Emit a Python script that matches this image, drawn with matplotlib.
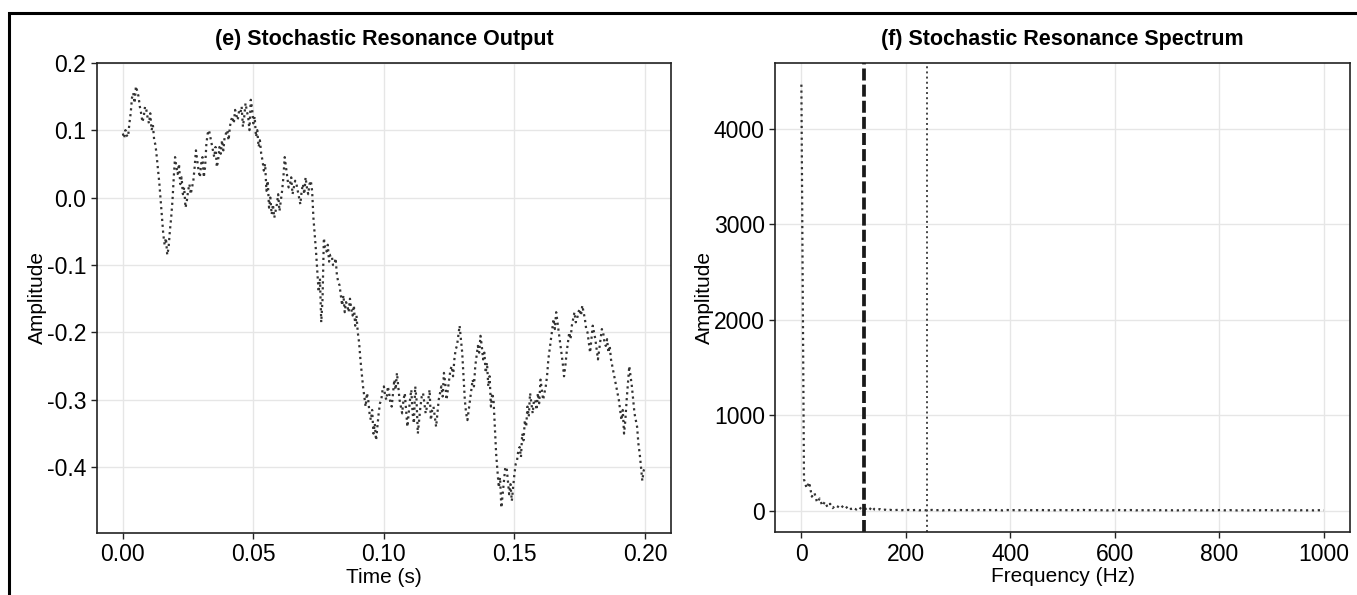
import numpy as np
import matplotlib.pyplot as plt
from matplotlib.patches import Rectangle

# output signal, sampled every 0.5 ms from 0 to 0.2 s
sr_output = [
    0.095, 0.088, 0.100, 0.092, 0.090, 0.110, 0.125, 0.148, 0.155, 0.140,
    0.165, 0.158, 0.150, 0.135, 0.125, 0.112, 0.120, 0.135, 0.130, 0.118,
    0.110, 0.125, 0.100, 0.108, 0.085, 0.078, 0.060, 0.040, 0.020, -0.005,
    -0.030, -0.055, -0.070, -0.060, -0.085, -0.075, -0.050, -0.030, -0.005, 0.030,
    0.060, 0.045, 0.035, 0.050, 0.020, 0.030, 0.005, 0.015, -0.015, -0.005,
    0.010, 0.020, 0.005, 0.015, 0.025, 0.045, 0.070, 0.055, 0.040, 0.030,
    0.050, 0.060, 0.030, 0.045, 0.080, 0.095, 0.100, 0.090, 0.080, 0.070,
    0.060, 0.075, 0.045, 0.055, 0.075, 0.065, 0.085, 0.070, 0.090, 0.095,
    0.100, 0.085, 0.105, 0.115, 0.120, 0.110, 0.130, 0.122, 0.115, 0.128,
    0.125, 0.135, 0.105, 0.120, 0.140, 0.128, 0.120, 0.100, 0.145, 0.132,
    0.110, 0.120, 0.090, 0.100, 0.075, 0.085, 0.065, 0.055, 0.040, 0.050,
    0.010, 0.025, -0.015, 0.000, -0.025, -0.010, -0.030, -0.020, -0.010, 0.005,
    -0.020, -0.005, 0.010, 0.030, 0.060, 0.045, 0.030, 0.015, 0.020, 0.030,
    0.005, 0.015, 0.025, 0.020, 0.010, 0.000, -0.010, 0.010, 0.020, 0.005,
    0.030, 0.015, 0.005, 0.020, 0.025, 0.010, -0.030, -0.055, -0.080, -0.110,
    -0.140, -0.120, -0.185, -0.150, -0.060, -0.075, -0.080, -0.070, -0.095, -0.085,
    -0.085, -0.100, -0.100, -0.090, -0.115, -0.125, -0.130, -0.145, -0.160, -0.145,
    -0.170, -0.155, -0.160, -0.170, -0.150, -0.165, -0.175, -0.160, -0.190, -0.175,
    -0.200, -0.215, -0.240, -0.260, -0.280, -0.295, -0.310, -0.290, -0.300, -0.320,
    -0.330, -0.315, -0.350, -0.335, -0.360, -0.340, -0.320, -0.305, -0.300, -0.285,
    -0.280, -0.295, -0.300, -0.280, -0.290, -0.305, -0.310, -0.290, -0.270, -0.285,
    -0.260, -0.280, -0.300, -0.310, -0.320, -0.300, -0.290, -0.315, -0.340, -0.320,
    -0.300, -0.285, -0.320, -0.335, -0.280, -0.300, -0.350, -0.330, -0.310, -0.295,
    -0.290, -0.305, -0.320, -0.310, -0.300, -0.285, -0.330, -0.315, -0.310, -0.325,
    -0.340, -0.320, -0.300, -0.290, -0.280, -0.295, -0.260, -0.275, -0.300, -0.285,
    -0.270, -0.255, -0.250, -0.265, -0.240, -0.225, -0.220, -0.205, -0.190, -0.210,
    -0.230, -0.265, -0.300, -0.320, -0.330, -0.315, -0.300, -0.285, -0.270, -0.280,
    -0.250, -0.235, -0.220, -0.230, -0.205, -0.220, -0.240, -0.230, -0.260, -0.245,
    -0.280, -0.265, -0.310, -0.290, -0.300, -0.340, -0.380, -0.405, -0.430, -0.415,
    -0.460, -0.440, -0.420, -0.400, -0.400, -0.420, -0.440, -0.425, -0.450, -0.430,
    -0.410, -0.395, -0.390, -0.375, -0.370, -0.385, -0.350, -0.360, -0.330, -0.340,
    -0.310, -0.325, -0.290, -0.305, -0.320, -0.300, -0.300, -0.315, -0.290, -0.305,
    -0.270, -0.285, -0.300, -0.290, -0.280, -0.265, -0.240, -0.225, -0.210, -0.195,
    -0.180, -0.195, -0.170, -0.185, -0.200, -0.215, -0.230, -0.245, -0.265, -0.250,
    -0.230, -0.215, -0.200, -0.210, -0.190, -0.180, -0.170, -0.185, -0.180, -0.170,
    -0.165, -0.175, -0.160, -0.170, -0.180, -0.195, -0.200, -0.215, -0.230, -0.210,
    -0.190, -0.200, -0.210, -0.225, -0.240, -0.225, -0.210, -0.195, -0.200, -0.215,
    -0.220, -0.210, -0.230, -0.220, -0.240, -0.250, -0.260, -0.270, -0.280, -0.290,
    -0.300, -0.315, -0.330, -0.315, -0.350, -0.330, -0.300, -0.275, -0.250, -0.265,
    -0.280, -0.300, -0.320, -0.330, -0.340, -0.365, -0.380, -0.400, -0.420, -0.405,
    -0.400,
]
time_s = np.linspace(0, 0.2, len(sr_output))

# magnitude spectrum, 5 Hz bins from 0 to 1000 Hz
sr_spectrum = [
    4460, 330, 240, 300, 150, 190, 90, 130, 55, 95,
    40, 75, 30, 60, 45, 25, 55, 30, 50, 20,
    35, 15, 40, 20, 12, 28, 10, 45, 15, 8,
    20, 8, 14, 6, 12, 7, 9, 12, 6, 10,
    8, 11, 6, 9, 12, 7, 8, 10, 6, 9,
    11, 7, 8, 10, 6, 9, 7, 11, 8, 6,
    9, 10, 7, 8, 11, 6, 9, 8, 10, 7,
    9, 6, 10, 8, 7, 11, 9, 6, 8, 10,
    7, 9, 8, 6, 10, 7, 9, 11, 8, 6,
    9, 7, 10, 8, 6, 9, 11, 7, 8, 10,
    6, 9, 8, 7, 10, 6, 9, 8, 11, 7,
    8, 10, 6, 9, 7, 8, 10, 6, 9, 8,
    7, 10, 9, 6, 8, 7, 10, 8, 6, 9,
    7, 8, 10, 7, 6, 9, 8, 7, 10, 6,
    8, 9, 7, 8, 6, 10, 7, 9, 8, 6,
    7, 9, 8, 6, 10, 7, 8, 9, 6, 7,
    8, 10, 7, 6, 9, 8, 7, 6, 9, 8,
    7, 6, 8, 9, 7, 6, 8, 7, 9, 6,
    8, 7, 6, 8, 9, 7, 6, 8, 7, 6,
    8, 7, 9, 6, 7, 8, 6, 7, 8, 6,
    7,
]
freq_hz = np.linspace(0, 1000, len(sr_spectrum))

signal_freq = 120
harmonic_freq = 240

plt.rcParams['font.family'] = ['Liberation Sans', 'DejaVu Sans']
plt.rcParams['axes.unicode_minus'] = False

fig = plt.figure(figsize=(13.57, 5.95), dpi=100)
ax1 = fig.add_axes([0.0713, 0.1047, 0.4232, 0.7899])
ax2 = fig.add_axes([0.5713, 0.1054, 0.4235, 0.7882])

line_col = '#333333'

ax1.plot(time_s, sr_output, color=line_col, linestyle=':', linewidth=1.6)
ax1.set_title('(e) Stochastic Resonance Output', fontsize=15.5, fontweight='bold', pad=13)
ax1.set_xlabel('Time (s)', fontsize=15, labelpad=1)
ax1.set_ylabel('Amplitude', fontsize=15, labelpad=0)
ax1.set_xticks([0.0, 0.05, 0.10, 0.15, 0.20])
ax1.set_xticklabels(['0.00', '0.05', '0.10', '0.15', '0.20'])
ax1.set_yticks([0.2, 0.1, 0.0, -0.1, -0.2, -0.3, -0.4])
ax1.set_ylim(-0.497, 0.2)
ax1.set_xlim(-0.01, 0.21)

ax2.plot(freq_hz, sr_spectrum, color=line_col, linestyle=':', linewidth=1.6)
ax2.axvline(signal_freq, color='#1a1a1a', linestyle=(0, (3.2, 1.1)), linewidth=2.7)
ax2.axvline(harmonic_freq, color='#444444', linestyle=':', linewidth=1.4)
ax2.set_title('(f) Stochastic Resonance Spectrum', fontsize=15.5, fontweight='bold', pad=13)
ax2.set_xlabel('Frequency (Hz)', fontsize=15, labelpad=1)
ax2.set_ylabel('Amplitude', fontsize=15, labelpad=0)
ax2.set_xticks([0, 200, 400, 600, 800, 1000])
ax2.set_yticks([0, 1000, 2000, 3000, 4000])
ax2.set_xlim(-50, 1050)
ax2.set_ylim(-223, 4683)

for ax in (ax1, ax2):
    ax.grid(True, color='#e6e6e6', linewidth=1.0)
    ax.set_axisbelow(True)
    ax.tick_params(labelsize=16.5, length=4, width=1.0, color='#222222', direction='out')
    for s in ax.spines.values():
        s.set_color('#222222')
        s.set_linewidth(1.2)

# frame from the original multi-panel figure
fig.add_artist(Rectangle((8.5 / 1357, -0.1), 1.2, 0.1 + (1 - 12.5 / 595),
                         transform=fig.transFigure, fill=False,
                         edgecolor='black', linewidth=2.2, clip_on=False))

fig.savefig('out.png', dpi=100)
